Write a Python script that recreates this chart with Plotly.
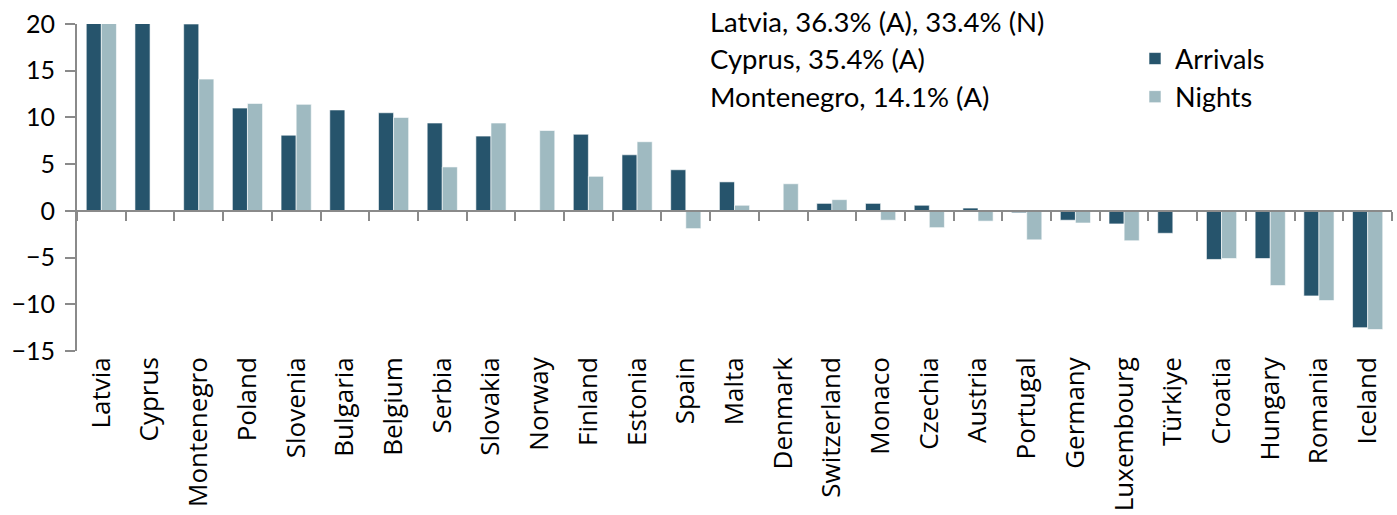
import plotly.graph_objects as go

countries = ["Latvia", "Cyprus", "Montenegro", "Poland", "Slovenia", "Bulgaria", "Belgium",
             "Serbia", "Slovakia", "Norway", "Finland", "Estonia", "Spain", "Malta", "Denmark",
             "Switzerland", "Monaco", "Czechia", "Austria", "Portugal", "Germany", "Luxembourg",
             "Türkiye", "Croatia", "Hungary", "Romania", "Iceland"]
arrivals = [36.3, 35.4, 20.0, 11.0, 8.1, 10.8, 10.5, 9.4, 8.0, None, 8.2, 6.0, 4.4, 3.1, None,
            0.8, 0.8, 0.6, 0.3, -0.2, -1.0, -1.4, -2.4, -5.2, -5.1, -9.1, -12.5]
nights = [33.4, None, 14.1, 11.5, 11.4, None, 10.0, 4.7, 9.4, 8.6, 3.7, 7.4, -1.9, 0.6, 2.9,
          1.2, -1.0, -1.8, -1.1, -3.1, -1.3, -3.2, None, -5.1, -8.0, -9.6, -12.7]
notes = ["Latvia, 36.3% (A), 33.4% (N)", "Cyprus, 35.4% (A)", "Montenegro, 14.1% (A)"]
y_ticks = [20, 15, 10, 5, 0, -5, -10, -15]

DARK = "#26546c"
LIGHT = "#9fbac1"
FONT = "Lato"
CAT_FONT = "Open Sans"
GRAY = "#8a8a8a"

fig = go.Figure()
fig.add_trace(go.Bar(x=countries, y=arrivals, name="Arrivals", marker_color=DARK,
                     marker_line=dict(color="white", width=0.6), legendgroup="a"))
fig.add_trace(go.Bar(x=countries, y=nights, name="Nights", marker_color=LIGHT,
                     marker_line=dict(color="white", width=0.6), legendgroup="n"))

W, H = 1397, 515
L, R, T, B = 77, 5, 24, 164
ph = H - T - B
pw = W - L - R

fig.update_layout(
    width=W, height=H,
    margin=dict(l=L, r=R, t=T, b=B, autoexpand=False),
    plot_bgcolor="white", paper_bgcolor="white",
    barmode="group", bargap=0.38, bargroupgap=0,
    font=dict(family=FONT, size=27, color="black"),
    showlegend=True,
    legend=dict(x=(1135 - L) / pw, y=(H - B - 78) / ph, xanchor="left", yanchor="middle",
                bgcolor="rgba(0,0,0,0)", font=dict(size=27), traceorder="normal",
                tracegroupgap=1, itemclick=False),
    xaxis=dict(type="category", range=[-0.5, len(countries) - 0.5], tickangle=-90,
               showline=False, ticks="", showgrid=False, zeroline=False,
               tickfont=dict(size=26, family=CAT_FONT), automargin=False),
    xaxis2=dict(overlaying="x", anchor="free", position=15 / 35, range=[-0.5, len(countries) - 0.5],
                tickvals=[i - 0.5 for i in range(len(countries) + 1)], showticklabels=False,
                ticks="outside", ticklen=9, tickcolor=GRAY, tickwidth=2,
                showline=True, linecolor=GRAY, linewidth=2, showgrid=False, zeroline=False),
    yaxis=dict(range=[-15, 20], tickvals=y_ticks, showgrid=False, zeroline=False,
               showline=True, linecolor=GRAY, linewidth=2, ticks="outside", ticklen=10,
               tickcolor=GRAY, tickwidth=2, tickfont=dict(size=25), ticklabelstandoff=5,
               automargin=False),
)

# invisible helper trace to activate xaxis2
fig.add_trace(go.Scatter(x=[0], y=[0], xaxis="x2", mode="markers", marker=dict(opacity=0),
                         showlegend=False, hoverinfo="skip"))

for note, py in zip(notes, [22, 59, 96]):
    fig.add_annotation(text=note, xref="paper", yref="paper",
                       x=(708 - L) / pw, y=(H - B - py) / ph,
                       xanchor="left", yanchor="middle", showarrow=False,
                       font=dict(size=27.5, family=FONT, color="black"))

fig.write_html("out.html", config={"displayModeBar": False},
               post_script="document.body.style.margin='0';")
